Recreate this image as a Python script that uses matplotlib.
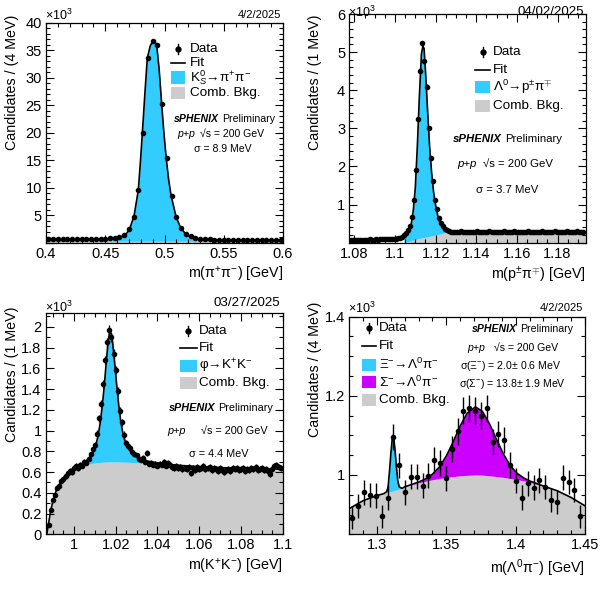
import numpy as np
import matplotlib
matplotlib.use('Agg')
import matplotlib.pyplot as plt
from matplotlib.patches import Rectangle
from matplotlib.lines import Line2D
from matplotlib.ticker import MultipleLocator, FuncFormatter

plt.rcParams['font.family'] = ['Liberation Sans', 'DejaVu Sans']
plt.rcParams['mathtext.fontset'] = 'custom'
plt.rcParams['mathtext.rm'] = 'Liberation Sans'
plt.rcParams['mathtext.it'] = 'Liberation Sans:italic'
plt.rcParams['mathtext.bf'] = 'Liberation Sans:bold'

W, H = 605, 602
BLUE = '#33CCFF'
GREY = '#CCCCCC'
MAGENTA = '#CC00FF'

# ---------------- K0s -> pi+ pi-  (x10^3 per 4 MeV)
ks_x = np.arange(50) * 0.004 + 0.402
ks_y = [0.7, 0.7, 0.7, 0.7, 0.7, 0.7, 0.7, 0.7, 0.7, 0.7, 0.75, 0.75, 0.8, 0.85, 0.95, 1.15,
        1.5, 2.5, 4.7, 9.6, 19.9, 33.6, 36.6, 36.0, 25.2, 15.4, 8.6, 4.8, 2.8, 1.6, 1.2, 0.95, 0.8, 0.7,
        0.65, 0.6, 0.6, 0.55, 0.55, 0.55, 0.5, 0.5, 0.5, 0.5, 0.5, 0.5, 0.5, 0.5, 0.5, 0.5]
ks_fit_x = [0.400, 0.420, 0.440, 0.450, 0.456, 0.460, 0.463, 0.4667, 0.4703, 0.4743, 0.4779, 0.4796,
            0.4813, 0.4835, 0.4855, 0.4880, 0.4895, 0.4909, 0.4920, 0.4934, 0.4955, 0.4976, 0.4995,
            0.5015, 0.5035, 0.5055, 0.5097, 0.5137, 0.5181, 0.5230, 0.5300, 0.5400, 0.5600, 0.6000]
ks_fit = [0.5, 0.5, 0.55, 0.6, 0.7, 0.85, 1.05, 1.4, 2.4, 4.9, 9.6, 14.5, 19.9, 27.3, 33.6, 35.8,
          36.4, 36.6, 36.5, 36.0, 31.5, 25.3, 20.0, 15.3, 11.5, 8.7, 4.8, 2.7, 1.6, 0.95, 0.65, 0.55, 0.5, 0.5]
ks_bkg = [0.35] * len(ks_fit_x)

# ---------------- Lambda -> p pi  (x10^3 per 1 MeV)
la_x = np.arange(115) * 0.001 + 1.0785
la_y = [0.07, 0.08, 0.07, 0.08, 0.08, 0.07, 0.08, 0.08, 0.08, 0.09, 0.08, 0.08, 0.09, 0.08, 0.09,
        0.09, 0.09, 0.10, 0.09, 0.10, 0.10,
        0.10, 0.11, 0.12, 0.13, 0.15, 0.19, 0.25, 0.33, 0.43, 0.67, 1.12, 1.91, 3.24, 4.51, 5.23,
        4.76, 4.09, 3.01, 2.22, 1.61, 1.12, 0.88, 0.66, 0.52, 0.43, 0.37, 0.33, 0.31, 0.29,
        0.28, 0.29, 0.27, 0.28, 0.30, 0.28, 0.27, 0.29, 0.28, 0.29, 0.27, 0.28, 0.30, 0.28, 0.29,
        0.27, 0.29, 0.28, 0.30, 0.29, 0.28, 0.27, 0.29, 0.28, 0.28, 0.30, 0.27, 0.28, 0.29, 0.28,
        0.30, 0.28, 0.29, 0.27, 0.28, 0.29, 0.28, 0.30, 0.29, 0.27, 0.28, 0.29, 0.28, 0.28, 0.30,
        0.29, 0.28, 0.27, 0.29, 0.28, 0.30, 0.29, 0.28, 0.29, 0.27, 0.28, 0.30, 0.29, 0.28, 0.27,
        0.29, 0.30, 0.28, 0.27, 0.29]
la_fit_x = [1.0775, 1.095, 1.100, 1.103, 1.1045, 1.106, 1.107, 1.108, 1.109, 1.110, 1.111, 1.112,
            1.113, 1.1137, 1.1143, 1.115, 1.116, 1.117, 1.118, 1.119, 1.120, 1.121, 1.122, 1.123,
            1.124, 1.126, 1.130, 1.150, 1.170, 1.194]
la_fit = [0.08, 0.085, 0.10, 0.13, 0.17, 0.23, 0.31, 0.50, 0.85, 1.45, 2.55, 3.85, 4.95, 5.15, 5.10,
          4.50, 3.50, 2.55, 1.85, 1.32, 0.98, 0.72, 0.55, 0.43, 0.36, 0.30, 0.285, 0.283, 0.285, 0.285]
la_bkg = [0.0, 0.0, 0.0, 0.0, 0.0, 0.02, 0.035, 0.05, 0.065, 0.08, 0.095, 0.11, 0.12, 0.13, 0.135,
          0.14, 0.155, 0.165, 0.18, 0.19, 0.20, 0.215, 0.23, 0.24, 0.25, 0.27, 0.285, 0.283, 0.285, 0.285]

# ---------------- phi -> K+ K-  (x10^3 per 1 MeV)
phi_x = np.arange(112) * 0.001 + 0.988
phi_y = [0.09, 0.23, 0.33, 0.38, 0.45, 0.47, 0.51, 0.53, 0.56, 0.59, 0.61, 0.60, 0.64, 0.66, 0.64,
         0.67, 0.66, 0.70, 0.69, 0.73, 0.77, 0.82, 0.86, 0.97, 1.12, 1.26, 1.45, 1.68, 1.85, 1.97,
         1.90, 1.74, 1.58, 1.38, 1.19, 1.08, 0.96, 0.88, 0.85, 0.83, 0.79, 0.77, 0.76, 0.73, 0.72,
         0.74, 0.70, 0.78, 0.68, 0.69, 0.67, 0.68, 0.66, 0.68, 0.67, 0.70, 0.66, 0.69, 0.67, 0.65,
         0.64, 0.66, 0.64, 0.65, 0.63, 0.64, 0.63, 0.65, 0.59, 0.64, 0.62, 0.65, 0.63, 0.64, 0.66,
         0.63, 0.64, 0.65, 0.62, 0.64, 0.63, 0.61, 0.64, 0.62, 0.60, 0.62, 0.63, 0.61, 0.64, 0.63,
         0.64, 0.62, 0.63, 0.64, 0.61, 0.63, 0.62, 0.64, 0.63, 0.65, 0.62, 0.63, 0.64, 0.62, 0.63,
         0.61, 0.58, 0.63, 0.66, 0.67, 0.65, 0.64]
phi_fit_x = [0.9870, 0.9880, 0.9890, 0.9900, 0.9915, 0.9935, 0.9955, 0.9975, 0.9995, 1.0015, 1.0035,
             1.0055, 1.0075, 1.0095, 1.0105, 1.0115, 1.0125, 1.0135, 1.0145, 1.0155, 1.0165, 1.0173,
             1.0180, 1.0185, 1.0195, 1.0205, 1.0215, 1.0225, 1.0235, 1.0245, 1.0255, 1.0275, 1.0295,
             1.0325, 1.0355, 1.0395, 1.0450, 1.0500, 1.0600, 1.0700, 1.0800, 1.0900, 1.1000]
phi_fit = [0.0, 0.12, 0.24, 0.32, 0.42, 0.50, 0.56, 0.60, 0.635, 0.655, 0.675, 0.70, 0.74, 0.80, 0.86,
           0.94, 1.06, 1.22, 1.42, 1.66, 1.88, 1.96, 1.93, 1.86, 1.66, 1.44, 1.24, 1.08, 0.97, 0.90,
           0.85, 0.79, 0.755, 0.725, 0.705, 0.69, 0.675, 0.665, 0.652, 0.643, 0.637, 0.632, 0.628]
phi_bkg = [0.0, 0.12, 0.24, 0.32, 0.42, 0.50, 0.56, 0.60, 0.63, 0.645, 0.66, 0.67, 0.678, 0.685, 0.688,
           0.69, 0.692, 0.694, 0.695, 0.696, 0.697, 0.697, 0.697, 0.697, 0.697, 0.697, 0.696, 0.696,
           0.695, 0.695, 0.694, 0.692, 0.69, 0.687, 0.683, 0.678, 0.672, 0.665, 0.652, 0.643, 0.637,
           0.632, 0.628]

# ---------------- Xi / Sigma -> Lambda pi  (x10^3 per 4 MeV)
xs_x = [1.2822, 1.2864, 1.2907, 1.2950, 1.2993, 1.3036, 1.3076, 1.3114, 1.3157, 1.3200, 1.3243,
        1.3286, 1.3329, 1.3371, 1.3412, 1.3453, 1.3496, 1.3539, 1.3581, 1.3621, 1.3664, 1.3710,
        1.3750, 1.3793, 1.3836, 1.3876, 1.3919, 1.3962, 1.4005, 1.4046, 1.4089, 1.4129, 1.4171,
        1.4214, 1.4257, 1.4300, 1.4341, 1.4381, 1.4424, 1.4467]
xs_y = [0.892, 0.922, 0.956, 0.949, 0.948, 0.895, 0.943, 1.095, 1.024, 0.956, 0.996, 0.996, 0.973,
        0.998, 1.038, 1.030, 0.992, 1.066, 1.110, 1.162, 1.169, 1.162, 1.150, 1.169, 1.083, 1.103,
        1.089, 1.025, 0.985, 0.943, 0.979, 0.968, 0.987, 0.970, 0.937, 0.931, 0.993, 0.982, 0.962,
        0.895]
xs_fit_x = [1.280, 1.290, 1.300, 1.305, 1.307, 1.308, 1.309, 1.310, 1.311, 1.3115, 1.312, 1.313,
            1.314, 1.315, 1.316, 1.318, 1.320, 1.330, 1.335, 1.340, 1.345, 1.350, 1.355, 1.360,
            1.365, 1.371, 1.376, 1.381, 1.386, 1.391, 1.396, 1.401, 1.406, 1.410, 1.420, 1.430,
            1.440, 1.450]
xs_fit = [0.915, 0.935, 0.948, 0.953, 0.958, 0.970, 1.010, 1.055, 1.093, 1.100, 1.095, 1.063, 1.020,
          0.985, 0.970, 0.966, 0.970, 0.982, 0.990, 1.002, 1.020, 1.048, 1.084, 1.124, 1.156, 1.172,
          1.1605, 1.130, 1.091, 1.054, 1.024, 1.004, 0.992, 0.985, 0.972, 0.960, 0.943, 0.922]
xs_bkg = [0.915, 0.935, 0.948, 0.953, 0.955, 0.956, 0.957, 0.958, 0.959, 0.959, 0.960, 0.961, 0.962,
          0.963, 0.964, 0.966, 0.970, 0.980, 0.984, 0.988, 0.991, 0.994, 0.996, 0.998, 0.999, 1.000,
          0.9995, 0.998, 0.996, 0.994, 0.991, 0.988, 0.985, 0.982, 0.972, 0.960, 0.943, 0.922]


def fx(x):
    return x / W


def fy(y):
    return 1 - y / H


def make_axes(fig, left, right, top, bottom):
    ax = fig.add_axes([fx(left), fy(bottom), (right - left) / W, (bottom - top) / H])
    ax.tick_params(which='both', direction='in', top=True, right=True, labelsize=10.5, pad=3)
    ax.tick_params(which='major', length=6, width=0.8)
    ax.tick_params(which='minor', length=3, width=0.8)
    for s in ax.spines.values():
        s.set_linewidth(0.9)
    return ax


def gfmt(skip=None):
    def f(v, p):
        if skip is not None and abs(v - skip) < 1e-9:
            return ''
        return f'{v:g}'
    return FuncFormatter(f)


def legend(fig, entries, xb0, xb1, xt, rows, fs=9.7):
    xm = (xb0 + xb1) / 2
    for (kind, label, color), y in zip(entries, rows):
        if kind == 'data':
            fig.add_artist(Line2D([fx(xm), fx(xm)], [fy(y - 5), fy(y + 5)], color='k', lw=1,
                                  transform=fig.transFigure))
            fig.add_artist(Line2D([fx(xm)], [fy(y)], marker='o', ms=3.5, color='k',
                                  transform=fig.transFigure))
        elif kind == 'line':
            fig.add_artist(Line2D([fx(xb0), fx(xb1)], [fy(y), fy(y)], color='k', lw=1.2,
                                  transform=fig.transFigure))
        else:
            fig.add_artist(Rectangle((fx(xb0), fy(y + 6)), (xb1 - xb0) / W, 12 / H, color=color,
                                     transform=fig.transFigure, lw=0))
        fig.text(fx(xt), fy(y), label, ha='left', va='center', fontsize=fs)


def stamp(fig, xs, xp, xp2, ys, lines, fs):
    # sPHENIX Preliminary block
    fig.text(fx(xs), fy(ys[0]), 'sPHENIX', ha='right', va='center', fontsize=fs,
             fontweight='bold', fontstyle='italic')
    fig.text(fx(xs + 3), fy(ys[0]), 'Preliminary', ha='left', va='center', fontsize=fs)
    fig.text(fx(xp), fy(ys[1]), 'p+p', ha='left', va='center', fontsize=fs, fontstyle='italic')
    fig.text(fx(xp2), fy(ys[1]), '√s = 200 GeV', ha='left', va='center', fontsize=fs)
    for (xc, s), y in zip(lines, ys[2:]):
        fig.text(fx(xc), fy(y), s, ha='center', va='center', fontsize=fs)


def decorate(fig, ax, ylab, xlab, date, date_fs, yl_x, yl_top, xl_y, date_y, mult_y):
    l, b, w, h = ax.get_position().bounds
    right = (l + w) * W
    left = l * W
    fig.text(fx(yl_x), fy(yl_top), ylab, rotation=90, ha='center', va='top', fontsize=10.3)
    fig.text(fx(right), fy(xl_y), xlab, ha='right', va='center', fontsize=10.3)
    fig.text(fx(right - 2), fy(date_y), date, ha='right', va='center', fontsize=date_fs)
    fig.text(fx(left - 1), fy(mult_y), r'×10$^{3}$', ha='left', va='center', fontsize=9)


fig = plt.figure(figsize=(W / 100, H / 100), dpi=100)

# ---- panel 1
ax1 = make_axes(fig, 46, 283, 22.7, 243)
ax1.fill_between(ks_fit_x, 0, ks_bkg, color=GREY, lw=0)
ax1.fill_between(ks_fit_x, ks_bkg, ks_fit, color=BLUE, lw=0)
ax1.plot(ks_fit_x, ks_fit, color='k', lw=1.2)
ax1.errorbar(ks_x, ks_y, yerr=np.sqrt(np.array(ks_y) * 1000) / 1000, fmt='o', ms=3, color='k',
             elinewidth=1, capsize=0)
ax1.set_xlim(0.4, 0.6)
ax1.set_ylim(0, 40)
ax1.xaxis.set_major_locator(MultipleLocator(0.05))
ax1.xaxis.set_minor_locator(MultipleLocator(0.01))
ax1.yaxis.set_major_locator(MultipleLocator(5))
ax1.yaxis.set_minor_locator(MultipleLocator(1))
ax1.xaxis.set_major_formatter(gfmt())
ax1.yaxis.set_major_formatter(gfmt(skip=0))
decorate(fig, ax1, 'Candidates / (4 MeV)', r'm(π$^{+}$π$^{-}$) [GeV]', '4/2/2025', 8,
         12, 15, 274, 15, 15)
legend(fig, [('data', 'Data', None), ('line', 'Fit', None),
             ('box', r'K$^{0}_{S}$→π$^{+}$π$^{-}$', BLUE), ('box', 'Comb. Bkg.', GREY)],
       171, 185, 190, [49.3, 63, 77.5, 93.3])
stamp(fig, 219, 177, 200, [119, 134, 149], [(223, 'σ = 8.9 MeV')], 7.6)

# ---- panel 2
ax2 = make_axes(fig, 349.3, 586, 14, 242.7)
mask2 = np.array(la_fit_x) >= 1.1045
ax2.fill_between(la_fit_x, 0, la_bkg, where=mask2, color=GREY, lw=0)
ax2.fill_between(la_fit_x, la_bkg, la_fit, where=mask2, color=BLUE, lw=0)
ax2.plot(la_fit_x, la_fit, color='k', lw=1.2)
ax2.errorbar(la_x, la_y, yerr=np.sqrt(np.array(la_y) * 1000) / 1000, xerr=0.0005, fmt='o', ms=3,
             color='k', elinewidth=1, capsize=0)
ax2.set_xlim(1.0775, 1.194)
ax2.set_ylim(0, 6.0)
ax2.xaxis.set_major_locator(MultipleLocator(0.02))
ax2.xaxis.set_minor_locator(MultipleLocator(0.005))
ax2.yaxis.set_major_locator(MultipleLocator(1))
ax2.yaxis.set_minor_locator(MultipleLocator(0.2))
ax2.xaxis.set_major_formatter(gfmt())
ax2.yaxis.set_major_formatter(gfmt(skip=0))
decorate(fig, ax2, 'Candidates / (1 MeV)', r'm(p$^{\pm}$π$^{\mp}$) [GeV]', '04/02/2025', 9.6,
         315.5, 15, 275, 12, 12)
legend(fig, [('data', 'Data', None), ('line', 'Fit', None),
             ('box', r'Λ$^{0}$→p$^{\pm}$π$^{\mp}$', BLUE), ('box', 'Comb. Bkg.', GREY)],
       475, 490, 493, [51.7, 70, 87.3, 106])
stamp(fig, 502, 457, 483, [139, 164, 190], [(507, 'σ = 3.7 MeV')], 8.2)

# ---- panel 3
ax3 = make_axes(fig, 45.7, 282.7, 313.3, 534.3)
ax3.fill_between(phi_fit_x, 0, phi_bkg, color=GREY, lw=0)
ax3.fill_between(phi_fit_x, phi_bkg, phi_fit, color=BLUE, lw=0)
ax3.plot(phi_fit_x, phi_fit, color='k', lw=1.2)
ax3.errorbar(phi_x, phi_y, yerr=np.sqrt(np.array(phi_y) * 1000) / 1000, xerr=0.0005, fmt='o',
             ms=3, color='k', elinewidth=1, capsize=0)
ax3.set_xlim(0.9865, 1.1)
ax3.set_ylim(0, 2.13)
ax3.xaxis.set_major_locator(MultipleLocator(0.02))
ax3.xaxis.set_minor_locator(MultipleLocator(0.005))
ax3.yaxis.set_major_locator(MultipleLocator(0.2))
ax3.yaxis.set_minor_locator(MultipleLocator(0.1))
ax3.xaxis.set_major_formatter(gfmt())
ax3.yaxis.set_major_formatter(gfmt())
decorate(fig, ax3, 'Candidates / (1 MeV)', r'm(K$^{+}$K$^{-}$) [GeV]', '03/27/2025', 9.6,
         12, 307, 567, 303, 307)
legend(fig, [('data', 'Data', None), ('line', 'Fit', None),
             ('box', r'φ→K$^{+}$K$^{-}$', BLUE), ('box', 'Comb. Bkg.', GREY)],
       180, 196.7, 199.3, [331, 348.3, 366, 383.3])
stamp(fig, 215, 167, 201, [408.3, 431, 454.3], [(219, 'σ = 4.4 MeV')], 7.8)

# ---- panel 4
ax4 = make_axes(fig, 349.3, 585, 316.7, 534.3)
fx4 = np.array(xs_fit_x)
ax4.fill_between(xs_fit_x, 0, xs_bkg, color=GREY, lw=0)
ax4.fill_between(xs_fit_x, xs_bkg, xs_fit, where=fx4 <= 1.318, color=BLUE, lw=0)
ax4.fill_between(xs_fit_x, xs_bkg, xs_fit, where=fx4 >= 1.320, color=MAGENTA, lw=0)
ax4.plot(xs_fit_x, xs_fit, color='k', lw=1.2)
ax4.errorbar(xs_x, xs_y, yerr=np.sqrt(np.array(xs_y) * 1000) / 1000, fmt='o', ms=3, color='k',
             elinewidth=1, capsize=0)
ax4.set_xlim(1.28, 1.45)
ax4.set_ylim(0.85, 1.4)
ax4.xaxis.set_major_locator(MultipleLocator(0.05))
ax4.xaxis.set_minor_locator(MultipleLocator(0.01))
ax4.yaxis.set_major_locator(MultipleLocator(0.2))
ax4.yaxis.set_minor_locator(MultipleLocator(0.05))
ax4.xaxis.set_major_formatter(gfmt())
ax4.yaxis.set_major_formatter(gfmt())
decorate(fig, ax4, 'Candidates / (4 MeV)', r'm(Λ$^{0}$π$^{-}$) [GeV]', '4/2/2025', 8,
         315.5, 302, 568, 308, 308)
legend(fig, [('data', 'Data', None), ('line', 'Fit', None),
             ('box', r'Ξ$^{-}$→Λ$^{0}$π$^{-}$', BLUE), ('box', r'Σ$^{-}$→Λ$^{0}$π$^{-}$', MAGENTA),
             ('box', 'Comb. Bkg.', GREY)],
       361.7, 376, 379.3, [328.3, 346, 364.5, 382, 399.5])
stamp(fig, 517, 467, 494, [329.3, 348.3, 366, 384.3],
      [(511, r'σ(Ξ$^{-}$) = 2.0± 0.6 MeV'), (512, r'σ(Σ$^{-}$) = 13.8± 1.9 MeV')], 7.6)

fig.savefig('out.png', dpi=100)
